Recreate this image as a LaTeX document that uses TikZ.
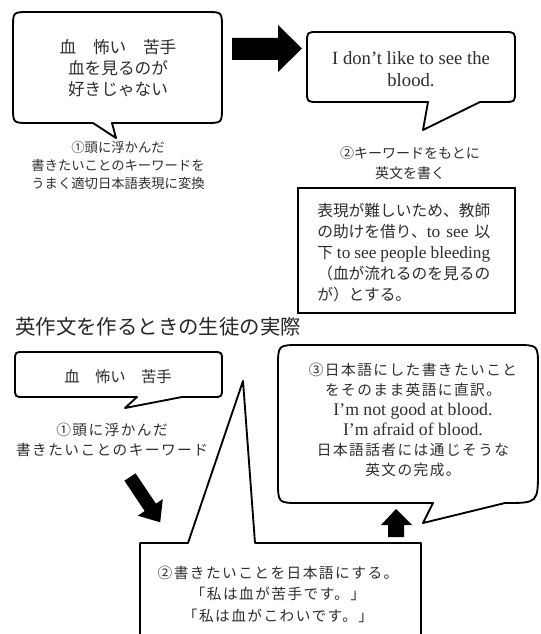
\documentclass[tikz,border=0pt]{standalone}
\usepackage{fontspec}
\setmainfont{Liberation Serif}
\newfontfamily\jp{Noto Sans CJK JP}
\newfontfamily\jpw{Noto Sans CJK JP}[LetterSpace=10]
\newcommand\fs[2]{\fontsize{#1}{#2}\selectfont}
\newcommand\Jw[1]{{\jpw\fs{11}{15}#1}}
\newcommand\Jb[1]{{\jp\fs{11.8}{15.75}#1}}
\begin{document}
\begin{tikzpicture}[x=0.75pt,y=-0.75pt,
  bub/.style={draw=black, line width=1.4pt, fill=white, line join=round},
  thinbox/.style={draw=black, line width=1.1pt, fill=white},
  txt/.style={text=black!82, inner sep=0pt, align=center},
  arr/.style={fill=black}]
\useasboundingbox (0,0) rectangle (541,634);

% --- top-left bubble
\draw[bub] (29,12) -- (206,12) .. controls (222,12) .. (222,28) -- (222,107)
  .. controls (222,123) .. (206,123) -- (112,123) -- (116,138) -- (93,123)
  -- (29,123) .. controls (13,123) .. (13,107) -- (13,28) .. controls (13,12) .. (29,12) -- cycle;
\node[txt, font=\jp\fs{12.5}{15.5}] (t1) at (118,68)
  {血\hspace{1em}怖い\hspace{1em}苦手\\血を見るのが\\好きじゃない};
\node[txt, font=\jp\fs{10}{13.5}] (c1) at (118,165)
  {①頭に浮かんだ\\書きたいことのキーワードを\\うまく適切日本語表現に変換};

% --- big right arrow
\fill[arr] (232,38) -- (278,38) -- (278,25) -- (302,48.5) -- (278,72) -- (278,60) -- (232,60) -- cycle;

% --- top-right bubble
\draw[bub] (318,32) -- (504,32) .. controls (515,32) .. (515,43) -- (515,91)
  .. controls (515,102) .. (504,102) -- (480,102) -- (423,130) -- (428,102)
  -- (318,102) .. controls (307,102) .. (307,91) -- (307,43) .. controls (307,32) .. (318,32) -- cycle;
\node[txt, font=\fs{14}{16.5}] (t2) at (411,69) {I don’t like to see the\\blood.};
\node[txt, font=\jp\fs{10.5}{14.5}] (c2) at (410,163) {②キーワードをもとに\\英文を書く};

% --- note box
\draw[thinbox] (298,188) rectangle (515,313);
\node[txt, anchor=west, align=left, font=\fs{13}{15.75}] (t3) at (317,253)
  {\Jb{表現が難しいため、教師}\\
   \makebox[129.75pt][s]{\Jb{の助けを借り、}to see \Jb{以}}\\
   \makebox[129.75pt][s]{\Jb{下} to see people bleeding}\\
   \Jb{（血が流れるのを見るの}\\
   \Jb{が）とする。}};

% --- heading
\node[anchor=west, inner sep=0pt, text=black!85, font=\jp\fs{15.3}{18}] (h) at (15,327)
  {英作文を作るときの生徒の実際};

% --- bottom-left bubble
\draw[bub] (24,352) -- (213,352) .. controls (222,352) .. (222,361) -- (222,388)
  .. controls (222,397) .. (213,397) -- (182,397) -- (125,408) -- (137,397)
  -- (24,397) .. controls (15,397) .. (15,388) -- (15,361) .. controls (15,352) .. (24,352) -- cycle;
\node[txt, font=\jp\fs{11.5}{14}] (t4) at (118,377) {血\quad 怖い\quad 苦手};
\node[txt, font=\jpw\fs{11}{15}] (c4) at (112,440) {①頭に浮かんだ\\書きたいことのキーワード};

% --- diagonal arrow
\fill[arr] (135.6,473.3) -- (155.9,503.7) -- (162.8,499.1) -- (160.2,522.3)
  -- (137.8,515.7) -- (144.7,511.1) -- (124.4,480.7) -- cycle;

% --- bottom-right bubble
\draw[bub] (300,345) -- (516,345) .. controls (538,345) .. (538,367) -- (538,470)
  .. controls (538,503) .. (505,503) -- (423,523) -- (433,503)
  -- (300,503) .. controls (278,503) .. (278,481) -- (278,367) .. controls (278,345) .. (300,345) -- cycle;
\node[txt, font=\fs{13.3}{15}] (t5) at (413,420)
  {\Jw{③日本語にした書きたいこと}\\\Jw{をそのまま英語に直訳。}\\I’m not good at blood.\\I’m afraid of blood.\\\Jw{日本語話者には通じそうな}\\\Jw{英文の完成。}};

% --- up arrow
\fill[arr] (396,509) -- (412,525) -- (404,525) -- (404,537) -- (388,537) -- (388,525) -- (381,525) -- cycle;

% --- bottom callout box
\draw[bub] (140,640) -- (140,543) -- (188,543) -- (243,381) -- (255,543) -- (421,543) -- (421,640);
\node[txt, font=\jpw\fs{11}{16.1}] (t6) at (278,594)
  {②書きたいことを日本語にする。\\「私は血が苦手です。」\\「私は血がこわいです。」};
\end{tikzpicture}
\end{document}
